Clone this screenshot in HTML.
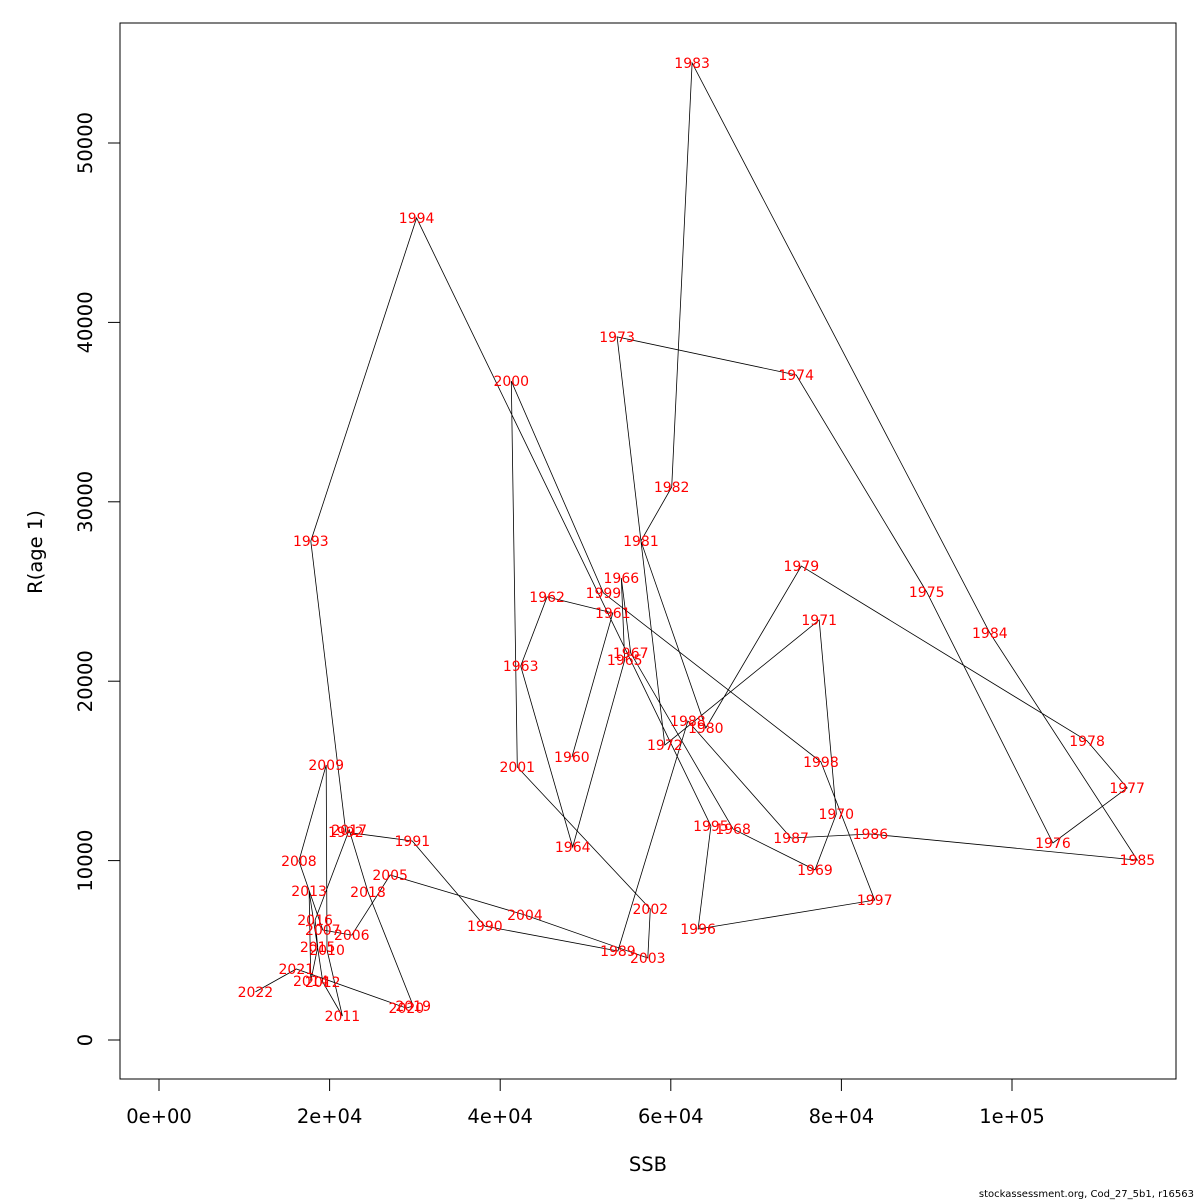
<!DOCTYPE html>
<html><head><meta charset="utf-8"><style>
html,body{margin:0;padding:0;background:#fff;}
svg{display:block;font-family:"DejaVu Sans","Liberation Sans",sans-serif;}
</style></head><body>
<svg id="chart" width="1200" height="1200" viewBox="0 0 1200 1200">
<rect x="0" y="0" width="1200" height="1200" fill="#fff"/>
<rect x="120" y="23" width="1056" height="1056" fill="none" stroke="#000" stroke-width="1"/>
<g id="axes"></g>
<g id="series"></g>
<g id="labels"></g>
<text x="648" y="1171" font-size="19.5" text-anchor="middle">SSB</text>
<text x="0" y="0" font-size="19.5" text-anchor="middle" transform="translate(42,552) rotate(-90)">R(age 1)</text>
<text x="1194" y="1197" font-size="10" text-anchor="end">stockassessment.org, Cod_27_5b1, r16563</text>
</svg>
<script>
const years=[1960,1961,1962,1963,1964,1965,1966,1967,1968,1969,1970,1971,1972,1973,1974,1975,1976,1977,1978,1979,1980,1981,1982,1983,1984,1985,1986,1987,1988,1989,1990,1991,1992,1993,1994,1995,1996,1997,1998,1999,2000,2001,2002,2003,2004,2005,2006,2007,2008,2009,2010,2011,2012,2013,2014,2015,2016,2017,2018,2019,2020,2021,2022];
const ssb=[48400,53200,45500,42400,48500,54600,54200,55300,67300,76900,79400,77400,59300,53700,74700,90000,104800,113500,108800,75300,64100,56500,60100,62500,97400,114700,83400,74100,62000,53800,38200,29700,21900,17800,30200,64700,63200,83900,77600,52100,41300,42000,57600,57300,42900,27100,22600,19200,16400,19600,19700,21500,19200,17600,17800,18600,18300,22300,24500,29800,29000,16100,11300];
const rec=[15770,23800,24700,20850,10760,21180,25750,21570,11760,9480,12600,23410,16440,39190,37070,24970,10980,14050,16670,26420,17390,27810,30820,54460,22690,10030,11480,11260,17780,4960,6350,11090,11590,27810,45820,11930,6190,7800,15500,24920,36730,15220,7300,4570,6970,9200,5850,6130,9980,15330,5020,1340,3230,8310,3290,5180,6690,11710,8250,1900,1780,3960,2680];
const xTicks=[0,20000,40000,60000,80000,100000];
const xTickLabels=["0e+00","2e+04","4e+04","6e+04","8e+04","1e+05"];
const yTicks=[0,10000,20000,30000,40000,50000];
const yTickLabels=["0","10000","20000","30000","40000","50000"];

const NS="http://www.w3.org/2000/svg";
const xs=v=>159+v*0.008530;
const ys=v=>1040-v*0.01794;
function mk(tag,attrs,parent){const e=document.createElementNS(NS,tag);for(const k in attrs)e.setAttribute(k,attrs[k]);parent.appendChild(e);return e;}
const axes=document.getElementById('axes');
let xl=mk('line',{x1:xs(xTicks[0]),x2:xs(xTicks[xTicks.length-1]),y1:1079,y2:1079,stroke:'#000'},axes);


xTicks.forEach((t,i)=>{
  const tk=mk('line',{x1:xs(t),x2:xs(t),y1:1079,y2:1091,stroke:'#000'},axes);
  
  
  const tl=mk('text',{x:xs(t),y:1123,'font-size':19.5,'text-anchor':'middle'},axes);
  tl.textContent=xTickLabels[i];
  
  
});
let yl=mk('line',{x1:120,x2:120,y1:ys(yTicks[0]),y2:ys(yTicks[yTicks.length-1]),stroke:'#000'},axes);


yTicks.forEach((t,i)=>{
  const tk=mk('line',{x1:108,x2:120,y1:ys(t),y2:ys(t),stroke:'#000'},axes);
  
  
  const tl=mk('text',{x:0,y:0,'font-size':19.5,'text-anchor':'middle',transform:`translate(92,${ys(t)}) rotate(-90)`},axes);
  tl.textContent=yTickLabels[i];
  
  
});
const series=document.getElementById('series');
const pts=ssb.map((s,i)=>xs(s).toFixed(1)+','+ys(rec[i]).toFixed(1)).join(' ');
const pl=mk('polyline',{points:pts,fill:'none',stroke:'#000','stroke-width':0.8},series);


const labels=document.getElementById('labels');
years.forEach((y,i)=>{
  const t=mk('text',{x:xs(ssb[i]),y:ys(rec[i])+5,'font-size':14,'text-anchor':'middle',fill:'#ff0000'},labels);
  t.textContent=y;
  
  
});
</script>
</body></html>
